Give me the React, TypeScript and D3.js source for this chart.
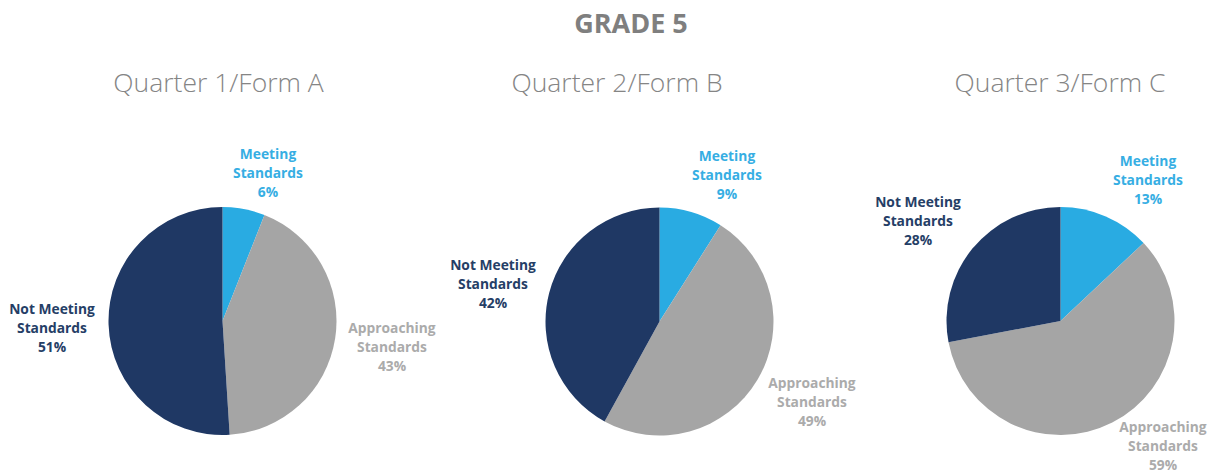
import React from "react";
import * as d3 from "d3";

const title = "GRADE 5";
const quarters = ["Quarter 1/Form A", "Quarter 2/Form B", "Quarter 3/Form C"];
const categories = ["Meeting Standards", "Approaching Standards", "Not Meeting Standards"];
const meeting = [6, 9, 13];
const approaching = [43, 49, 59];
const notMeeting = [51, 42, 28];

const sliceColors = ["#29ABE2", "#A5A5A5", "#1F3864"];
const labelColors = ["#36AEE3", "#ABABAB", "#253E66"];

const W = 1212;
const H = 473;

const centers = [
  { x: 222.5, y: 321 },
  { x: 659.5, y: 321.5 },
  { x: 1060.5, y: 321 },
];
const radius = 114;
const subtitleX = [218.5, 617, 1060];

// label anchor positions (center x, first-line baseline) per pie per category
const labelPos = [
  [
    { x: 268, y: 159 },
    { x: 392, y: 333 },
    { x: 52, y: 314 },
  ],
  [
    { x: 727, y: 161 },
    { x: 812, y: 388 },
    { x: 493, y: 270 },
  ],
  [
    { x: 1148, y: 166 },
    { x: 1163, y: 432 },
    { x: 918, y: 207 },
  ],
];

export default function App() {
  const pie = d3
    .pie<number>()
    .sort(null)
    .value((d) => d)
    .startAngle(0)
    .endAngle(2 * Math.PI);
  const arc = d3.arc<d3.PieArcDatum<number>>().innerRadius(0).outerRadius(radius);

  const data = quarters.map((_, i) => [meeting[i], approaching[i], notMeeting[i]]);

  return (
    <svg width={W} height={H} style={{ position: "absolute", left: 0, top: 0 }}>
      <rect width={W} height={H} fill="#ffffff" />
      <text
        x={631}
        y={33}
        textAnchor="middle"
        fontFamily="'Open Sans', sans-serif"
        fontWeight={700}
        fontSize={27}
        fill="#7F7F7F"
      >
        {title}
      </text>
      {quarters.map((q, i) => (
        <text
          key={q}
          x={subtitleX[i]}
          y={92}
          textAnchor="middle"
          fontFamily="'Open Sans', sans-serif"
          fontWeight={300}
          fontSize={26.5}
          fill="#858585"
        >
          {q}
        </text>
      ))}
      {data.map((vals, i) => (
        <g key={i} transform={`translate(${centers[i].x},${centers[i].y})`}>
          {pie(vals).map((a, j) => (
            <path key={j} d={arc(a) || ""} fill={sliceColors[j]} />
          ))}
        </g>
      ))}
      {data.map((vals, i) =>
        vals.map((v, j) => {
          const words = categories[j].split(" ");
          const line1 = words.slice(0, words.length - 1).join(" ");
          const line2 = words[words.length - 1];
          const p = labelPos[i][j];
          return (
            <text
              key={`${i}-${j}`}
              x={p.x}
              y={p.y}
              textAnchor="middle"
              fontFamily="'Open Sans', sans-serif"
              fontWeight={700}
              fontSize={13.8}
              fill={labelColors[j]}
            >
              <tspan x={p.x}>{line1}</tspan>
              <tspan x={p.x} dy={19}>
                {line2}
              </tspan>
              <tspan x={p.x} dy={19}>
                {v}%
              </tspan>
            </text>
          );
        })
      )}
    </svg>
  );
}
